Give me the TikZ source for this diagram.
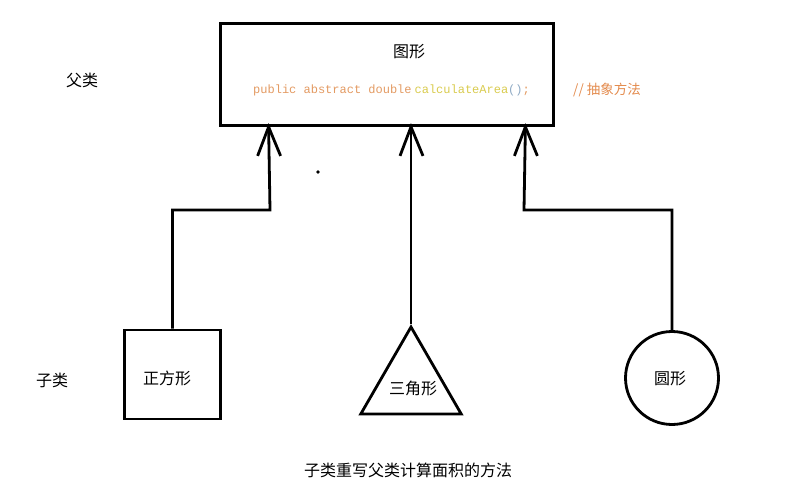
\documentclass[tikz,border=0pt]{standalone}
\usepackage{fontspec}
\usepackage{tikz}
\usetikzlibrary{shapes.geometric, positioning}
\newfontfamily\cjk{Noto Sans CJK SC}
\newfontfamily\codefont{Liberation Mono}
\definecolor{kwcol}{HTML}{E39A62}
\definecolor{fncol}{HTML}{D9CB4E}
\definecolor{parcol}{HTML}{8FAAC4}
\definecolor{comcol}{HTML}{E38A4C}

\begin{document}
\begin{tikzpicture}[x=1pt, y=-1pt,
		font=\cjk\fontsize{16}{18}\selectfont,
		figbox/.style={draw, line width=2.8pt, inner sep=0pt},
		link/.style={line width=2.8pt},
		vhead/.style={line width=2.8pt, line join=miter}]   %offene Pfeilspitze
		\useasboundingbox (0,0) rectangle (810,501);
		% Oberklasse
		\node[figbox, minimum width=333pt, minimum height=102pt] (parent) at (387,74.5) {};
		\node (ptitle) at (409,52) {图形};
		\node[anchor=west, inner sep=0pt, font=\codefont\fontsize{12}{14}\selectfont] (code) at (253,90)
			{\textcolor{kwcol}{public abstract double}\hspace{3pt}\textcolor{fncol}{calculateArea}\textcolor{parcol}{()}\textcolor{kwcol}{;}};
		\node[anchor=west, inner sep=0pt, text=comcol, font=\cjk\fontsize{13.5}{15}\selectfont] (comment) at (573,90) {// 抽象方法};
		\node (plabel) at (82,80) {父类};
		% Unterklassen
		\node[figbox, minimum width=96pt, minimum height=89pt] (square) at (172.5,374.5) {};
		\node (sqtext) at (167,378) {正方形};
		\node[figbox, regular polygon, regular polygon sides=3, minimum size=116pt] (tri) at (411,385) {};
		\node (tritext) at (413,388) {三角形};
		\node[figbox, circle, minimum size=93pt] (circ) at (672,378) {};
		\node (circtext) at (670,379) {圆形};
		\node (clabel) at (52,380) {子类};
		% Pfeile
		\coordinate (tip1) at ([xshift=49.5pt]parent.south west);
		\coordinate (tip2) at (tri.corner 1 |- parent.south);
		\coordinate (tip3) at ([xshift=-29.5pt]parent.south east);
		\draw[link] (square.north) |- (270,210) -- (tip1);
		\draw[link] (tri.corner 1) -- (tip2);
		\draw[link] (circ.north) |- (524,210) -- (tip3);
		\foreach \t in {tip1,tip2,tip3}
			\draw[vhead] ([shift={(-11,29)}]\t) -- (\t) -- ([shift={(12,29)}]\t);
		% Punkt
		\fill (318,172) circle [radius=1.8];
		% Beschriftung
		\node (caption) at (408,470) {子类重写父类计算面积的方法};
	\end{tikzpicture}
\end{document}
